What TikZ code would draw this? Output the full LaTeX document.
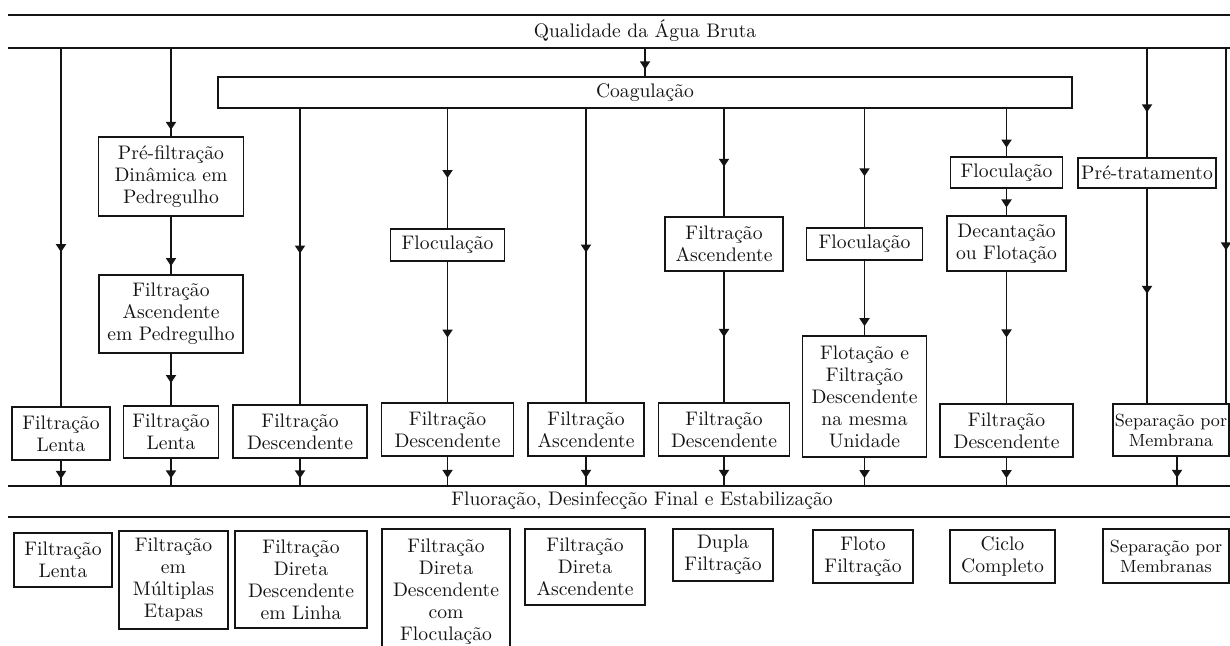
\documentclass[tikz,border=0pt]{standalone}
\usepackage{fontspec}
\usepackage{xcolor}
\definecolor{inkblack}{RGB}{20, 20, 20}
\usepackage{tikz}
\usetikzlibrary{arrows.meta, positioning, calc, decorations.markings}

\begin{document}
\begin{tikzpicture}[x=0.5pt, y=-0.5pt, line width=0.9pt, draw=inkblack, text=inkblack,
    >={Triangle[width=5pt, length=4pt]},
    every node/.style={font=\fontsize{9.8}{11}\selectfont},
    box/.style={draw, align=center, inner sep=1pt},
    smallbox/.style={box, font=\fontsize{8.8}{10}\selectfont},
    flow/.style={postaction={decorate}, decoration={markings, mark=at position #1 with {\arrow{>}}}}]
    \path[use as bounding box] (0,0) rectangle (1230,646);
    \clip (0,0) rectangle (1230,646);
    \fill[white] (0,0) rectangle (1230,646);

    \draw (8,15) -- (1230,15);
    \draw (8,48) -- (1230,48);
    \node (raw) at (645,31) {Qualidade da Água Bruta};
    \coordinate (rawbot) at (645,48);
    \coordinate (c1) at (61,48);
    \coordinate (c2) at (171,48);
    \coordinate (c9) at (1147,48);
    \coordinate (c10) at (1226,48);

    \node[box, minimum width=427pt, minimum height=15.5pt] (coag) at (645,92.5) {Coagulação};

    \node[box, minimum width=49pt, minimum height=26.5pt] (lenta1) at (61,433.5) {Filtração\\Lenta};
    \node[box, minimum width=72.5pt, minimum height=39.5pt] (pref) at (171,176.5) {Pré-filtração\\Dinâmica em\\Pedregulho};
    \node[box, minimum width=72pt, minimum height=39pt] (ascped) at (171,314) {Filtração\\Ascendente\\em Pedregulho};
    \node[box, minimum width=47.5pt, minimum height=26pt] (lenta2) at (171,432) {Filtração\\Lenta};
    \node[box, minimum width=67pt, minimum height=26.5pt] (desc3) at (300,431.5) {Filtração\\Descendente};
    \node[box, minimum width=57pt, minimum height=16pt] (floc4) at (447.5,245) {Floculação};
    \node[box, minimum width=66pt, minimum height=26.5pt] (desc4) at (447.5,429.5) {Filtração\\Descendente};
    \node[box, minimum width=58pt, minimum height=26.5pt] (asc5) at (586,429.5) {Filtração\\Ascendente};
    \node[box, minimum width=59pt, minimum height=27pt] (asc6) at (724,244) {Filtração\\Ascendente};
    \node[box, minimum width=65.5pt, minimum height=26.5pt] (desc6) at (724,429.5) {Filtração\\Descendente};
    \node[box, minimum width=58pt, minimum height=16pt] (floc7) at (864.5,244) {Floculação};
    \node[box, minimum width=62pt, minimum height=60.5pt] (flodesc7) at (864.5,396.5) {Flotação e\\Filtração\\Descendente\\na mesma\\Unidade};
    \node[box, minimum width=56pt, minimum height=15.5pt] (floc8) at (1006.5,172.5) {Floculação};
    \node[box, minimum width=59.5pt, minimum height=27.5pt] (decant8) at (1006.5,243.5) {Decantação\\ou Flotação};
    \node[box, minimum width=66.5pt, minimum height=26.5pt] (desc8) at (1006.5,430.5) {Filtração\\Descendente};
    \node[box, minimum width=69pt, minimum height=15pt] (pretrat) at (1147,173) {Pré-tratamento};
    \node[smallbox, minimum width=58pt, minimum height=26pt] (separ) at (1171,430) {Separação por\\Membrana};

    \draw[flow=0.76] (rawbot) -- (coag.north);
    \draw[flow=0.57] (c1) -- (lenta1.north);
    \draw[flow=0.93] (c2) -- (pref.north);
    \draw[flow=0.86] (pref.south) -- (ascped.north);
    \draw[flow=0.57] (ascped.south) -- (lenta2.north);
    \draw[flow=0.49] (coag.south -| desc3) -- (desc3.north);
    \draw[flow=0.58] (coag.south -| floc4) -- (floc4.north);
    \draw[flow=0.54] (floc4.south) -- (desc4.north);
    \draw[flow=0.49] (coag.south -| asc5) -- (asc5.north);
    \draw[flow=0.54] (coag.south -| asc6) -- (asc6.north);
    \draw[flow=0.5] (asc6.south) -- (desc6.north);
    \draw[flow=0.57] (coag.south -| floc7) -- (floc7.north);
    \draw[flow=0.88] (floc7.south) -- (flodesc7.north);
    \draw[flow=0.82] (coag.south -| floc8) -- (floc8.north);
    \draw[flow=0.71] (floc8.south) -- (decant8.north);
    \draw[flow=0.5] (decant8.south) -- (desc8.north);
    \draw[flow=0.59] (c9) -- (pretrat.north);
    \draw[flow=0.49] (pretrat.south) -- (pretrat.south |- separ.north);
    \draw[flow=0.57] (c10) -- (c10 |- separ.north);

    \draw (8,486) -- (1230,486);
    \draw (8,517) -- (1230,517);
    \node (fin) at (642,501) {Fluoração, Desinfecção Final e Estabilização};
    \coordinate (fintop) at (642,486);

    \draw[flow=0.72] (lenta1.south) -- (lenta1.south |- fintop);
    \draw[flow=0.72] (lenta2.south) -- (lenta2.south |- fintop);
    \draw[flow=0.72] (desc3.south) -- (desc3.south |- fintop);
    \draw[flow=0.72] (desc4.south) -- (desc4.south |- fintop);
    \draw[flow=0.72] (asc5.south) -- (asc5.south |- fintop);
    \draw[flow=0.72] (desc6.south) -- (desc6.south |- fintop);
    \draw[flow=0.72] (flodesc7.south) -- (flodesc7.south |- fintop);
    \draw[flow=0.72] (desc8.south) -- (desc8.south |- fintop);
    \draw[flow=0.72] ([xshift=3pt]separ.south) -- ([xshift=3pt]separ.south |- fintop);

    \node[box, minimum width=49pt, minimum height=27pt] (lentab) at (63,560) {Filtração\\Lenta};
    \node[box, minimum width=54.5pt, minimum height=49pt] (multi) at (173.5,580) {Filtração\\em\\Múltiplas\\Etapas};
    \node[box, minimum width=66pt, minimum height=48.5pt] (linha) at (301,579.5) {Filtração\\Direta\\Descendente\\em Linha};
    \node[box, minimum width=64pt, minimum height=63pt] (dirfloc) at (446,592) {Filtração\\Direta\\Descendente\\com\\Floculação};
    \node[box, minimum width=60pt, minimum height=38pt] (dirasc) at (585,567) {Filtração\\Direta\\Ascendente};
    \node[box, minimum width=50pt, minimum height=26pt] (dupla) at (723,555) {Dupla\\Filtração};
    \node[box, minimum width=50pt, minimum height=26.5pt] (floto) at (863,556.5) {Floto\\Filtração};
    \node[box, minimum width=52.5pt, minimum height=26.5pt] (ciclo) at (1002.5,556.5) {Ciclo\\Completo};
    \node[smallbox, minimum width=63pt, minimum height=27pt] (membr) at (1166,556) {Separação por\\Membranas};
\end{tikzpicture}
\end{document}
